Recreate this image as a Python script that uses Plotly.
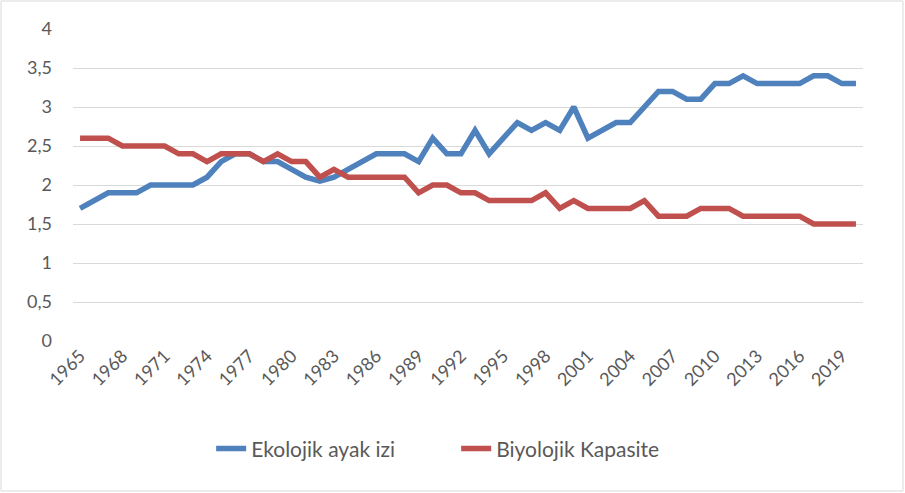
import plotly.graph_objects as go

# years on the category axis
years = list(range(1965, 2021))

# Ekolojik ayak izi (ecological footprint)
ekolojik = [1.7, 1.8, 1.9, 1.9, 1.9, 2.0, 2.0, 2.0, 2.0, 2.1,
            2.3, 2.4, 2.4, 2.3, 2.3, 2.2, 2.1, 2.05, 2.1, 2.2,
            2.3, 2.4, 2.4, 2.4, 2.3, 2.6, 2.4, 2.4, 2.7, 2.4,
            2.6, 2.8, 2.7, 2.8, 2.7, 3.0, 2.6, 2.7, 2.8, 2.8,
            3.0, 3.2, 3.2, 3.1, 3.1, 3.3, 3.3, 3.4, 3.3, 3.3,
            3.3, 3.3, 3.4, 3.4, 3.3, 3.3]

# Biyolojik Kapasite (biocapacity)
biyolojik = [2.6, 2.6, 2.6, 2.5, 2.5, 2.5, 2.5, 2.4, 2.4, 2.3,
             2.4, 2.4, 2.4, 2.3, 2.4, 2.3, 2.3, 2.1, 2.2, 2.1,
             2.1, 2.1, 2.1, 2.1, 1.9, 2.0, 2.0, 1.9, 1.9, 1.8,
             1.8, 1.8, 1.8, 1.9, 1.7, 1.8, 1.7, 1.7, 1.7, 1.7,
             1.8, 1.6, 1.6, 1.6, 1.7, 1.7, 1.7, 1.6, 1.6, 1.6,
             1.6, 1.6, 1.5, 1.5, 1.5, 1.5]

tick_years = list(range(1965, 2020, 3))
y_ticks = [0, 0.5, 1, 1.5, 2, 2.5, 3, 3.5, 4]

FONT = "Lato, 'Noto Sans', sans-serif"
GREY = "#595959"

fig = go.Figure()
fig.add_trace(go.Scatter(x=years, y=ekolojik, mode="lines", name="Ekolojik ayak izi",
                         line=dict(color="#4F81BD", width=5.5)))
fig.add_trace(go.Scatter(x=years, y=biyolojik, mode="lines", name="Biyolojik Kapasite",
                         line=dict(color="#C0504D", width=5.5)))

fig.update_layout(
    width=905, height=493,
    margin=dict(l=73, r=42, t=29, b=152, autoexpand=False),
    paper_bgcolor="white", plot_bgcolor="white",
    separators=",.",
    font=dict(family=FONT, size=17, color=GREY),
    showlegend=True,
    legend=dict(orientation="h", x=0.485, xanchor="center", y=-0.346, yanchor="middle",
                font=dict(family=FONT, size=21, color=GREY), entrywidth=200,
                entrywidthmode="pixels"),
    xaxis=dict(range=[1964.5, 2020.5], tickvals=tick_years, tickangle=-45,
               showgrid=False, zeroline=False, showline=False, ticks="",
               automargin=False, tickfont=dict(size=18, color=GREY)),
    yaxis=dict(range=[0, 4], tickvals=y_ticks, showgrid=True, gridcolor="#D9D9D9",
               gridwidth=1, zeroline=False, showline=False, ticks="",
               automargin=False, ticklabelstandoff=20,
               tickfont=dict(size=18, color=GREY)),
    shapes=[dict(type="rect", xref="paper", yref="paper",
                 x0=-0.0911, x1=1.0506, y0=-0.4808, y1=1.0897,
                 line=dict(color="#D9D9D9", width=1), fillcolor="rgba(0,0,0,0)",
                 layer="below")],
)

# drop the browser's default body margin so the chart sits at the page corner
fig.write_html("out.html", config={"displayModeBar": False},
               post_script="document.body.style.margin='0';")
